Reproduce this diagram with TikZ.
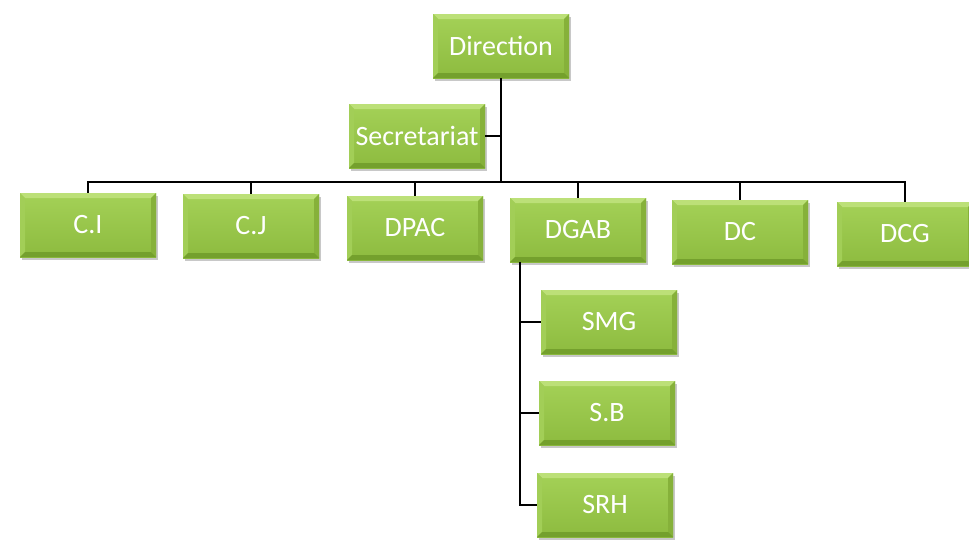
\documentclass[tikz,border=0pt]{standalone}
\usepackage{fontspec}
\setmainfont{Carlito}
\usetikzlibrary{shadows,calc}

\definecolor{facetop}{HTML}{A4D157}
\definecolor{facebot}{HTML}{8DBB3F}
\definecolor{bevtop}{HTML}{BCE078}
\definecolor{bevleft}{HTML}{A2CE57}
\definecolor{bevright}{HTML}{86B13A}
\definecolor{bevbot}{HTML}{74A02D}

\tikzset{
  orgbox/.style={
    minimum width=136pt, minimum height=64pt, inner sep=0pt,
    text=white, font=\fontsize{28}{30}\selectfont,
    top color=facetop, bottom color=facebot,
    drop shadow={shadow xshift=1.5pt, shadow yshift=-2.5pt, opacity=0.3, fill=black!70},
    path picture={
      \coordinate (nw) at (path picture bounding box.north west);
      \coordinate (ne) at (path picture bounding box.north east);
      \coordinate (sw) at (path picture bounding box.south west);
      \coordinate (se) at (path picture bounding box.south east);
      \fill[bevtop]   (nw) -- (ne) -- ($(ne)+(-5pt,-5pt)$) -- ($(nw)+(5pt,-5pt)$) -- cycle;
      \fill[bevleft]  (nw) -- (sw) -- ($(sw)+(5pt,5pt)$) -- ($(nw)+(5pt,-5pt)$) -- cycle;
      \fill[bevright] (ne) -- (se) -- ($(se)+(-5pt,5pt)$) -- ($(ne)+(-5pt,-5pt)$) -- cycle;
      \fill[bevbot]   (sw) -- (se) -- ($(se)+(-5pt,5pt)$) -- ($(sw)+(5pt,5pt)$) -- cycle;
    }
  },
  link/.style={draw=black, line width=2pt}
}

\begin{document}
\begin{tikzpicture}[x=1pt,y=-1pt]
  \fill[white] (0,0) rectangle (969,546);
  \useasboundingbox (0,0) rectangle (969,546);

  \coordinate (bus) at (500,182);

  % boxes
  \node[orgbox] (dir) at (501,46)  {Direction};
  \node[orgbox] (sec) at (417,136) {Secretariat};
  \node[orgbox] (ci)  at (88,225)  {C.I};
  \node[orgbox] (cj)  at (251,226) {C.J};
  \node[orgbox] (dpac) at (415,228) {DPAC};
  \node[orgbox] (dgab) at (578,230) {DGAB};
  \node[orgbox] (dc)  at (740,232) {DC};
  \node[orgbox] (dcg) at (905,234) {DCG};
  \node[orgbox] (smg) at (609,322) {SMG};
  \node[orgbox] (sb)  at (607,413) {S.B};
  \node[orgbox] (srh) at (605,505) {SRH};

  \coordinate (trunk) at ([xshift=10pt]dgab.south west);

  % connectors
  \draw[link] (dir.south) -- (dir.south |- bus);
  \draw[link] (sec.east) -- (sec.east -| dir.south);
  \draw[link] (ci.north) -- (ci.north |- bus) -- (dcg.north |- bus) -- (dcg.north);
  \draw[link] (cj.north) -- (cj.north |- bus);
  \draw[link] (dpac.north) -- (dpac.north |- bus);
  \draw[link] (dgab.north) -- (dgab.north |- bus);
  \draw[link] (dc.north) -- (dc.north |- bus);
  \draw[link] (trunk) |- (srh.west);
  \draw[link] (trunk |- smg.west) -- (smg.west);
  \draw[link] (trunk |- sb.west) -- (sb.west);
\end{tikzpicture}
\end{document}
